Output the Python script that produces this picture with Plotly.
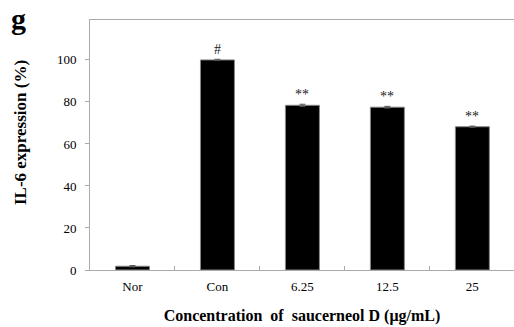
import plotly.graph_objects as go

categories = ["Nor", "Con", "6.25", "12.5", "25"]
values = [1.8, 100.0, 78.4, 77.5, 68.2]
errors = [0.3, 0.3, 0.5, 0.4, 0.3]
marks = ["", "#", "**", "**", "**"]
y_ticks = [0, 20, 40, 60, 80, 100]

serif = "Liberation Serif, Times New Roman, serif"

fig = go.Figure()
fig.add_trace(go.Bar(
    x=categories, y=values, width=0.4,
    marker=dict(color="black", line=dict(color="#888888", width=1)),
    error_y=dict(type="data", array=errors, visible=True, color="#555555", thickness=1, width=3),
    showlegend=False,
))

for i, (v, e, m) in enumerate(zip(values, errors, marks)):
    if m:
        fig.add_annotation(x=i, y=v + e, text=m, showarrow=False, yanchor="bottom", yshift=0,
                           font=dict(family=serif, size=14, color="#222222"))

fig.add_annotation(x=-0.19, y=1.08, xref="paper", yref="paper", xanchor="left", yanchor="top",
                   text="<b>g</b>", showarrow=False, font=dict(family=serif, size=30, color="black"))
fig.add_annotation(x=-0.165, y=0.548, xref="paper", yref="paper", xanchor="center", yanchor="middle",
                   textangle=-90, text="<b>IL-6 expression (%)</b>", showarrow=False,
                   font=dict(family=serif, size=17, color="black"))

fig.update_layout(
    width=514, height=327,
    margin=dict(l=90, r=0, t=20, b=57),
    paper_bgcolor="white", plot_bgcolor="white",
    font=dict(family=serif, color="black"),
    xaxis=dict(
        type="category",
        range=[-0.5, 4.49], showline=True, linecolor="#aaaaaa", linewidth=1, mirror=True,
        ticks="inside", tickson="boundaries", ticklen=4, tickcolor="#aaaaaa",
        tickfont=dict(family=serif, size=13, color="black"), ticklabelstandoff=4,
        title=dict(text="<b>Concentration  of  saucerneol D (μg/mL)</b>", font=dict(family=serif, size=16), standoff=17),
        showgrid=False,
    ),
    yaxis=dict(
        range=[0, 119], showline=True, linecolor="#aaaaaa", linewidth=1,
        ticks="outside", ticklen=4, tickcolor="#aaaaaa", ticklabelstandoff=6,
        tickvals=y_ticks, tickfont=dict(family=serif, size=13, color="black"),
        showgrid=False, zeroline=False,
    ),
)

fig.write_html("out.html")
